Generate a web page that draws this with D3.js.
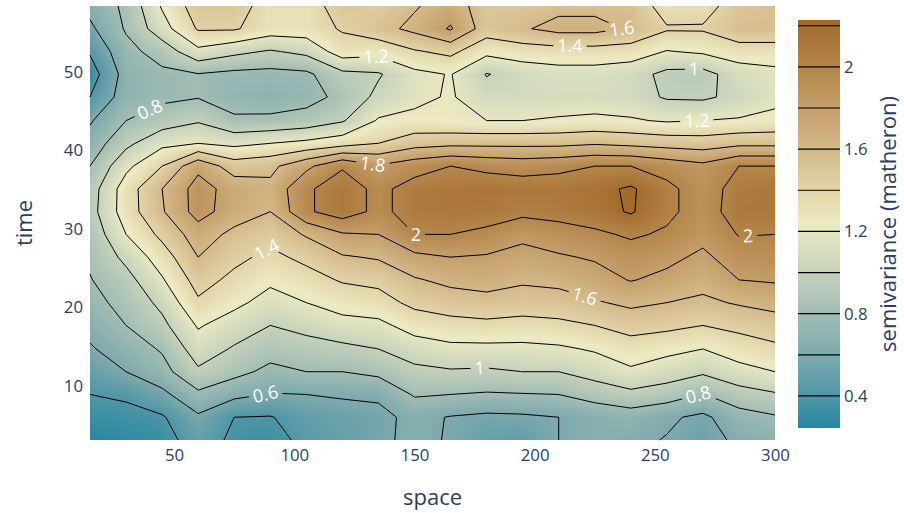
<!DOCTYPE html>
<html><head><meta charset="utf-8">
<script src="https://cdn.jsdelivr.net/npm/d3@7"></script>
<style>
body{margin:0;background:#fff}
svg{display:block}
text{font-family:"Open Sans",sans-serif}
</style>
</head><body>
<svg id="chart" width="904" height="513"></svg>
<script>
// ---------------- data ----------------
const space = [15,30,45,60,75,90,105,120,135,150,165,180,195,210,225,240,255,270,285,300];
const time = [3.1,6.0,8.9,11.8,14.7,17.7,20.6,23.5,26.4,29.3,32.2,35.1,38.0,40.9,43.8,46.8,49.7,52.6,55.5,58.4];
// semivariance rows: one row per time lag, values across space lags
const semivariance = [
 [0.244,0.28,0.32,0.50,0.36,0.33,0.45,0.50,0.55,0.66,0.58,0.50,0.48,0.60,0.66,0.64,0.59,0.52,0.64,0.68],
 [0.32,0.34,0.38,0.57,0.40,0.39,0.48,0.52,0.55,0.65,0.59,0.56,0.57,0.60,0.66,0.70,0.63,0.56,0.72,0.78],
 [0.40,0.43,0.55,0.76,0.65,0.59,0.60,0.62,0.63,0.82,0.80,0.78,0.79,0.80,0.88,0.95,0.90,0.79,0.92,0.98],
 [0.50,0.60,0.73,0.97,0.86,0.75,0.80,0.80,0.85,0.95,0.98,0.97,1.00,1.00,1.08,1.17,1.10,1.03,1.13,1.20],
 [0.58,0.70,0.82,1.10,0.98,0.88,0.92,0.95,1.00,1.10,1.15,1.15,1.15,1.17,1.22,1.30,1.25,1.20,1.30,1.36],
 [0.66,0.80,0.95,1.22,1.10,1.00,1.06,1.14,1.15,1.28,1.33,1.35,1.33,1.35,1.40,1.48,1.45,1.40,1.45,1.50],
 [0.74,0.86,1.05,1.37,1.25,1.12,1.20,1.27,1.32,1.45,1.50,1.53,1.50,1.52,1.58,1.64,1.60,1.56,1.62,1.67],
 [0.79,0.93,1.18,1.48,1.35,1.24,1.32,1.42,1.45,1.58,1.65,1.68,1.63,1.65,1.72,1.81,1.75,1.67,1.80,1.82],
 [0.83,1.05,1.30,1.60,1.45,1.35,1.45,1.58,1.62,1.75,1.80,1.78,1.73,1.78,1.82,1.90,1.85,1.76,1.90,1.92],
 [0.86,1.20,1.45,1.70,1.55,1.47,1.62,1.78,1.80,2.00,2.00,1.95,1.85,1.90,1.96,2.03,1.97,1.86,2.01,2.00],
 [0.92,1.30,1.58,1.88,1.70,1.60,1.97,2.10,1.95,2.08,2.10,2.10,2.05,2.08,2.12,2.22,2.05,1.90,2.10,2.10],
 [0.90,1.30,1.60,1.88,1.72,1.65,1.97,2.10,1.95,2.08,2.10,2.12,2.10,2.10,2.14,2.228,2.05,1.90,2.08,2.10],
 [0.80,1.15,1.40,1.75,1.50,1.55,1.75,1.98,1.82,1.92,2.00,1.95,1.92,1.95,2.00,2.00,1.92,1.85,2.00,2.00],
 [0.68,0.95,1.15,1.20,1.15,1.20,1.25,1.32,1.40,1.52,1.55,1.55,1.55,1.55,1.58,1.55,1.52,1.50,1.55,1.55],
 [0.58,0.80,0.90,0.98,0.83,0.84,0.88,0.98,1.22,1.25,1.22,1.20,1.20,1.22,1.24,1.22,1.18,1.20,1.22,1.25],
 [0.40,0.70,0.76,0.79,0.72,0.70,0.73,0.85,1.05,1.15,1.22,1.08,1.08,1.10,1.10,1.08,0.98,0.97,1.05,1.15],
 [0.30,0.68,0.76,0.79,0.75,0.74,0.76,0.95,0.98,1.15,1.21,0.99,1.08,1.12,1.12,1.08,0.95,0.93,1.10,1.15],
 [0.42,0.74,0.88,1.15,1.05,0.98,1.05,1.30,1.26,1.38,1.45,1.25,1.30,1.32,1.32,1.30,1.19,1.23,1.30,1.30],
 [0.56,0.82,1.12,1.42,1.42,1.30,1.30,1.42,1.53,1.65,1.82,1.50,1.58,1.66,1.66,1.58,1.42,1.42,1.55,1.55],
 [0.66,0.84,1.22,1.50,1.50,1.30,1.30,1.50,1.45,1.58,1.70,1.50,1.50,1.55,1.55,1.55,1.30,1.32,1.50,1.55]
];
const levels = [0.4,0.6,0.8,1.0,1.2,1.4,1.6,1.8,2.0,2.2];
const xTicks = [50,100,150,200,250,300];
const yTicks = [10,20,30,40,50];
const cbTicks = [0.4,0.8,1.2,1.6,2];
const colorStops = ["rgb(40,135,161)","rgb(121,167,172)","rgb(181,200,184)","rgb(237,234,194)","rgb(214,189,141)","rgb(189,146,90)","rgb(161,105,40)"];
// contour label anchors (level, approx space, approx time)
const labelLevel = [0.8,1.2,1.4,1.6,1,1.2,1.8,2,2,1.4,1.6,1,0.6,0.8];
const labelSpace = [39,134,214.7,240,266.3,267.5,132.7,150.6,288.8,87.8,220.5,177.3,87.8,267.5];
const labelTime  = [45.8,51.9,52.8,55.6,50.5,43.6,38.4,29.6,29.2,27.8,21.1,11.0,9.2,9.5];

// ---------------- layout ----------------
const W = 904, H = 513;
const plot = {l: 90, r: 775, t: 6, b: 440};
const cb = {l: 798, r: 840, t: 20, b: 428};
const fontColor = "#2a3f5f";
const svg = d3.select("#chart");

const nx = space.length, ny = time.length;
const x = d3.scaleLinear().domain([space[0], space[nx-1]]).range([plot.l, plot.r]);
const y = d3.scaleLinear().domain([time[0], time[ny-1]]).range([plot.b, plot.t]);
const xIdx = d3.scaleLinear().domain(space).range(d3.range(nx)).clamp(true);
const yIdx = d3.scaleLinear().domain(time).range(d3.range(ny)).clamp(true);
const idxX = d3.scaleLinear().domain(d3.range(nx)).range(space).clamp(true);
const idxY = d3.scaleLinear().domain(d3.range(ny)).range(time).clamp(true);

const flat = semivariance.flat();
const [zmin, zmax] = d3.extent(flat);
const color = d3.scaleLinear()
  .domain(colorStops.map((c, k) => zmin + k * (zmax - zmin) / (colorStops.length - 1)))
  .range(colorStops).interpolate(d3.interpolateRgb).clamp(true);

function zAt(fi, fj) {
  const i0 = Math.min(nx - 2, Math.floor(fi)), j0 = Math.min(ny - 2, Math.floor(fj));
  const tx = fi - i0, ty = fj - j0;
  const a = semivariance[j0][i0], b = semivariance[j0][i0 + 1];
  const c = semivariance[j0 + 1][i0], d = semivariance[j0 + 1][i0 + 1];
  return (a * (1 - tx) + b * tx) * (1 - ty) + (c * (1 - tx) + d * tx) * ty;
}

// ---------------- heatmap ----------------
const LUTN = 1024;
const lut = d3.range(LUTN).map(k => d3.rgb(color(zmin + (zmax - zmin) * k / (LUTN - 1))));
const cw = plot.r - plot.l, ch = plot.b - plot.t;
const canvas = document.createElement("canvas");
canvas.width = cw; canvas.height = ch;
const ctx = canvas.getContext("2d");
const img = ctx.createImageData(cw, ch);
for (let q = 0; q < ch; q++) {
  const fj = yIdx(y.invert(plot.t + q + 0.5));
  for (let p = 0; p < cw; p++) {
    const fi = xIdx(x.invert(plot.l + p + 0.5));
    const v = zAt(fi, fj);
    const k = Math.max(0, Math.min(LUTN - 1, Math.round((v - zmin) / (zmax - zmin) * (LUTN - 1))));
    const c = lut[k], o = (q * cw + p) * 4;
    img.data[o] = c.r; img.data[o + 1] = c.g; img.data[o + 2] = c.b; img.data[o + 3] = 255;
  }
}
ctx.putImageData(img, 0, 0);
svg.append("image").attr("x", plot.l).attr("y", plot.t).attr("width", cw).attr("height", ch)
  .attr("preserveAspectRatio", "none").attr("href", canvas.toDataURL());

// ---------------- contours ----------------
const contours = d3.contours().size([nx, ny]).thresholds(levels)(flat);
function toPx(pt) {
  const fi = Math.max(0, Math.min(nx - 1, pt[0] - 0.5));
  const fj = Math.max(0, Math.min(ny - 1, pt[1] - 0.5));
  return [x(idxX(fi)), y(idxY(fj)), fi, fj];
}
const e = 1e-6;
function sameEdge(a, b) {
  return (a[2] <= e && b[2] <= e) || (a[2] >= nx - 1 - e && b[2] >= nx - 1 - e) ||
         (a[3] <= e && b[3] <= e) || (a[3] >= ny - 1 - e && b[3] >= ny - 1 - e);
}
const levelSegs = new Map();
const lineData = contours.map(c => {
  let dstr = "";
  const segs = [];
  c.coordinates.forEach(poly => poly.forEach(ring => {
    let open = false;
    for (let k = 0; k < ring.length - 1; k++) {
      const a = toPx(ring[k]), b = toPx(ring[k + 1]);
      if (sameEdge(a, b)) { open = false; continue; }
      if (!open) { dstr += "M" + a[0].toFixed(2) + "," + a[1].toFixed(2); open = true; }
      dstr += "L" + b[0].toFixed(2) + "," + b[1].toFixed(2);
      segs.push([a, b]);
    }
  }));
  levelSegs.set(c.value, segs);
  return {value: c.value, d: dstr};
});

const defs = svg.append("defs");
const mask = defs.append("mask").attr("id", "lblmask").attr("maskUnits", "userSpaceOnUse")
  .attr("x", 0).attr("y", 0).attr("width", W).attr("height", H);
mask.append("rect").attr("width", W).attr("height", H).attr("fill", "white");

svg.append("g").attr("mask", "url(#lblmask)")
  .selectAll("path").data(lineData).join("path")
  .attr("d", d => d.d).attr("fill", "none").attr("stroke", "#000").attr("stroke-width", 1);

// ---------------- contour labels ----------------
const fmt = d3.format("~g");
const lblG = svg.append("g");
labelLevel.forEach((lv, k) => {
  let segs = null;
  levelSegs.forEach((s, key) => { if (Math.abs(key - lv) < 1e-9) segs = s; });
  if (!segs || !segs.length) return;
  const ax = x(labelSpace[k]), ay = y(labelTime[k]);
  let best = null;
  segs.forEach(([a, b]) => {
    const dx = b[0] - a[0], dy = b[1] - a[1];
    const L2 = dx * dx + dy * dy || 1;
    let t = ((ax - a[0]) * dx + (ay - a[1]) * dy) / L2;
    t = Math.max(0, Math.min(1, t));
    const px = a[0] + t * dx, py = a[1] + t * dy;
    const dd = (px - ax) ** 2 + (py - ay) ** 2;
    if (!best || dd < best.dd) best = {dd, px, py, ang: Math.atan2(dy, dx) * 180 / Math.PI};
  });
  let ang = best.ang;
  if (ang > 90) ang -= 180;
  if (ang <= -90) ang += 180;
  const t = lblG.append("text")
    .attr("transform", `translate(${best.px},${best.py}) rotate(${ang})`)
    .attr("text-anchor", "middle").attr("dy", "0.35em")
    .attr("fill", "#fff").attr("font-size", 18).text(fmt(lv));
  const w = t.node().getComputedTextLength();
  mask.append("rect").attr("transform", `translate(${best.px},${best.py}) rotate(${ang})`)
    .attr("x", -w / 2 - 4).attr("y", -8).attr("width", w + 8).attr("height", 16).attr("fill", "black");
});

// ---------------- axes ----------------
const xAxis = svg.append("g").attr("transform", `translate(0,${plot.b})`)
  .call(d3.axisBottom(x).tickValues(xTicks).tickSize(0).tickPadding(9).tickFormat(fmt));
const yAxis = svg.append("g").attr("transform", `translate(${plot.l},0)`)
  .call(d3.axisLeft(y).tickValues(yTicks).tickSize(0).tickPadding(7).tickFormat(fmt));
[xAxis, yAxis].forEach(g => {
  g.select(".domain").remove();
  g.selectAll("text").attr("font-size", 16.8).attr("fill", fontColor).attr("font-family", '"Open Sans",sans-serif');
});
svg.append("text").attr("x", (plot.l + plot.r) / 2).attr("y", 505).attr("text-anchor", "middle")
  .attr("font-size", 22).attr("fill", fontColor).text("space");
svg.append("text").attr("transform", `translate(32,${(plot.t + plot.b) / 2}) rotate(-90)`)
  .attr("text-anchor", "middle").attr("font-size", 22).attr("fill", fontColor).text("time");

// ---------------- colorbar ----------------
const cbScale = d3.scaleLinear().domain([zmin, zmax]).range([cb.b, cb.t]);
const grad = defs.append("linearGradient").attr("id", "cbgrad")
  .attr("x1", 0).attr("y1", 1).attr("x2", 0).attr("y2", 0);
d3.range(0, 1.0001, 0.05).forEach(f => {
  grad.append("stop").attr("offset", f).attr("stop-color", color(zmin + f * (zmax - zmin)));
});
svg.append("rect").attr("x", cb.l).attr("y", cb.t).attr("width", cb.r - cb.l).attr("height", cb.b - cb.t)
  .attr("fill", "url(#cbgrad)");
svg.append("g").selectAll("line").data(levels.filter(l => l >= zmin && l <= zmax)).join("line")
  .attr("x1", cb.l).attr("x2", cb.r).attr("y1", d => cbScale(d)).attr("y2", d => cbScale(d))
  .attr("stroke", "#000").attr("stroke-width", 1.2);
const cbAxis = svg.append("g").attr("transform", `translate(${cb.r},0)`)
  .call(d3.axisRight(cbScale).tickValues(cbTicks).tickSize(0).tickPadding(4).tickFormat(fmt));
cbAxis.select(".domain").remove();
cbAxis.selectAll("text").attr("font-size", 16.8).attr("fill", fontColor).attr("font-family", '"Open Sans",sans-serif');
svg.append("text").attr("transform", `translate(896,${(cb.t + cb.b) / 2}) rotate(-90)`)
  .attr("text-anchor", "middle").attr("font-size", 22).attr("fill", fontColor).text("semivariance (matheron)");
</script>
</body></html>
